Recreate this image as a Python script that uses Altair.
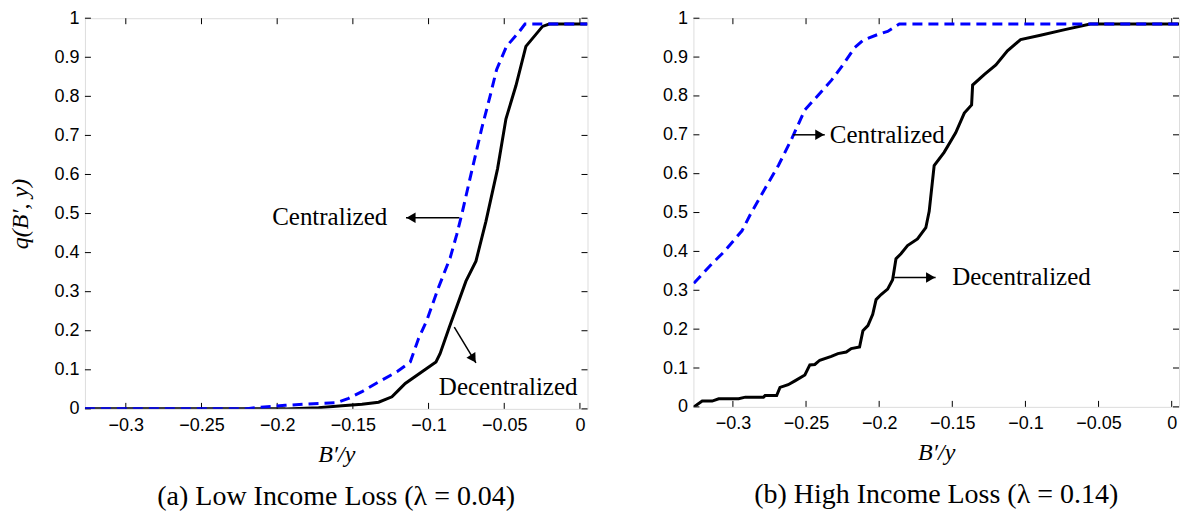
import math
import altair as alt
import pandas as pd

# ---------------- data ----------------
x_ticks = [-0.3, -0.25, -0.2, -0.15, -0.1, -0.05, 0]
y_ticks = [0, 0.1, 0.2, 0.3, 0.4, 0.5, 0.6, 0.7, 0.8, 0.9, 1]
x_domain = [-0.327, 0.005]

# Panel (a): low income loss
a_cent_x = [-0.327, -0.221, -0.2123, -0.1947, -0.1727, -0.1605, -0.1528, -0.144, -0.133,
            -0.1209, -0.1121, -0.1066, -0.1012, -0.0935, -0.0857, -0.0814, -0.0781,
            -0.0726, -0.065, -0.0594, -0.055, -0.0485, -0.0408, -0.0363, 0.005]
a_cent_y = [0.0, 0.0, 0.004, 0.009, 0.014, 0.016, 0.027, 0.044, 0.069,
            0.095, 0.12, 0.18, 0.226, 0.31, 0.387, 0.446, 0.497,
            0.59, 0.716, 0.80, 0.869, 0.928, 0.962, 0.985, 0.985]

a_dec_x = [-0.327, -0.1945, -0.1727, -0.1572, -0.144, -0.133, -0.1242, -0.1198, -0.1154,
           -0.0951, -0.0924, -0.0863, -0.0753, -0.0687, -0.0621, -0.0544, -0.0489,
           -0.0423, -0.0357, -0.0247, -0.0203, 0.005]
a_dec_y = [0.0, 0.0, 0.003, 0.008, 0.012, 0.017, 0.031, 0.048, 0.065,
           0.12, 0.141, 0.209, 0.327, 0.378, 0.48, 0.615, 0.742,
           0.827, 0.928, 0.979, 0.985, 0.985]

# Panel (b): high income loss
b_cent_x = [-0.3267, -0.3142, -0.3063, -0.2938, -0.2881, -0.278, -0.2689, -0.2599, -0.2508,
            -0.2417, -0.2327, -0.2259, -0.2168, -0.2111, -0.201, -0.1942, -0.1862, 0.005]
b_cent_y = [0.318, 0.369, 0.398, 0.453, 0.495, 0.562, 0.621, 0.689, 0.764,
            0.802, 0.840, 0.874, 0.924, 0.943, 0.958, 0.966, 0.985, 0.985]

b_dec_x = [-0.3267, -0.321, -0.3142, -0.3097, -0.2961, -0.2915, -0.2791, -0.278, -0.2701,
           -0.2678, -0.2622, -0.2576, -0.2508, -0.2474, -0.244, -0.2406, -0.2327, -0.2282,
           -0.2225, -0.2191, -0.2134, -0.2111, -0.2077, -0.2044, -0.2021, -0.1987, -0.1942,
           -0.1908, -0.1885, -0.1851, -0.1806, -0.1738, -0.1681, -0.1658, -0.1624, -0.1556,
           -0.1477, -0.1418, -0.1368, -0.1361, -0.1282, -0.1202, -0.1123, -0.1033, -0.0897,
           -0.0738, -0.0557, 0.005]
b_dec_y = [0.0, 0.015, 0.015, 0.021, 0.021, 0.025, 0.025, 0.029, 0.029,
           0.05, 0.057, 0.067, 0.082, 0.108, 0.109, 0.12, 0.13, 0.137,
           0.141, 0.15, 0.154, 0.196, 0.209, 0.238, 0.276, 0.289, 0.303,
           0.327, 0.381, 0.394, 0.415, 0.432, 0.461, 0.503, 0.621, 0.655,
           0.705, 0.756, 0.777, 0.828, 0.855, 0.880, 0.916, 0.945, 0.956,
           0.970, 0.985, 0.985]

# annotations: label text, text anchor, arrow start / tip
a_labels = ["Centralized", "Decentralized"]
a_label_x = [-0.1273, -0.0474]
a_label_y = [0.49, 0.056]
a_label_align = ["right", "center"]
a_arrow_x = [-0.0797, -0.0830]
a_arrow_y = [0.489, 0.209]
a_arrow_x2 = [-0.1149, -0.0687]
a_arrow_y2 = [0.489, 0.1175]
a_arrow_angle = [180, 58]

b_labels = ["Centralized", "Decentralized"]
b_label_x = [-0.2338, -0.1501]
b_label_y = [0.70, 0.333]
b_label_align = ["left", "left"]
b_arrow_x = [-0.2588, -0.1897]
b_arrow_y = [0.70, 0.333]
b_arrow_x2 = [-0.2372, -0.1614]
b_arrow_y2 = [0.70, 0.333]
b_arrow_angle = [0, 0]

captions = ["(a) Low Income Loss (λ = 0.04)", "(b) High Income Loss (λ = 0.14)"]

SERIF = "Liberation Serif"
SANS = "Liberation Sans"


def panel(cx, cy, dx, dy, labels, lx, ly, lalign, ax, ay, ax2, ay2, aang,
          caption, ytitle, W, H):
    xs = alt.Scale(domain=x_domain, nice=False, zero=False)
    ys = alt.Scale(domain=[0, 1], nice=False, zero=False)
    xaxis = alt.Axis(values=x_ticks, format="~g", ticks=False, domain=False, grid=False,
                     labelFlush=False, labelFont=SANS, labelFontSize=18, labelColor="black",
                     labelPadding=8, title="B′/y", titleFont=SERIF, titleFontSize=24,
                     titleFontStyle="italic", titleFontWeight="normal", titleColor="black",
                     titlePadding=8)
    yaxis_kw = dict(values=y_ticks, format="~g", ticks=False, domain=False, grid=False,
                    labelFlush=False, labelFont=SANS, labelFontSize=18, labelColor="black",
                    labelPadding=6)
    if ytitle:
        yaxis = alt.Axis(title=ytitle, titleFont=SERIF, titleFontSize=24,
                         titleFontStyle="italic", titleFontWeight="normal",
                         titleColor="black", titlePadding=21, **yaxis_kw)
    else:
        yaxis = alt.Axis(title=None, **yaxis_kw)

    X = alt.X("x:Q", scale=xs, axis=xaxis)
    Y = alt.Y("y:Q", scale=ys, axis=yaxis)

    xt = pd.DataFrame({"x": x_ticks})
    yt = pd.DataFrame({"y": y_ticks})
    tl = 6
    t_bottom = alt.Chart(xt).mark_rule(color="black", strokeWidth=1).encode(
        x=X, y=alt.value(H), y2=alt.value(H - tl))
    t_top = alt.Chart(xt).mark_rule(color="black", strokeWidth=1).encode(
        x=X, y=alt.value(0), y2=alt.value(tl))
    t_left = alt.Chart(yt).mark_rule(color="black", strokeWidth=1).encode(
        y=Y, x=alt.value(0), x2=alt.value(tl))
    t_right = alt.Chart(yt).mark_rule(color="black", strokeWidth=1).encode(
        y=Y, x=alt.value(W), x2=alt.value(W - tl))

    dfc = pd.DataFrame({"x": cx, "y": cy, "i": range(len(cx))})
    dfd = pd.DataFrame({"x": dx, "y": dy, "i": range(len(dx))})
    dec = alt.Chart(dfd).mark_line(color="black", strokeWidth=3, clip=True).encode(
        x=X, y=Y, order="i:Q")
    cen = alt.Chart(dfc).mark_line(color="#0000ff", strokeWidth=3, strokeDash=[10, 6],
                                   clip=True).encode(x=X, y=Y, order="i:Q")

    arrows = []
    for x1, y1, x2, y2, ang in zip(ax, ay, ax2, ay2, aang):
        d = pd.DataFrame({"x": [x1], "y": [y1], "x2": [x2], "y2": [y2]})
        arrows.append(alt.Chart(d).mark_rule(color="black", strokeWidth=1.5).encode(
            x=X, y=Y, x2="x2:Q", y2="y2:Q"))
        back = 5.0
        arrows.append(alt.Chart(d).mark_point(
            shape="triangle-right", filled=True, color="black", opacity=1, size=110,
            angle=ang, strokeWidth=0,
            xOffset=-back * math.cos(math.radians(ang)),
            yOffset=-back * math.sin(math.radians(ang))).encode(
            x=alt.X("x2:Q", scale=xs, axis=xaxis), y=alt.Y("y2:Q", scale=ys, axis=yaxis)))

    texts = []
    for t, x, y, al in zip(labels, lx, ly, lalign):
        d = pd.DataFrame({"x": [x], "y": [y], "t": [t]})
        texts.append(alt.Chart(d).mark_text(font=SERIF, fontSize=25, align=al,
                                            baseline="middle", color="black").encode(
            x=X, y=Y, text="t:N"))

    return alt.layer(t_bottom, t_top, t_left, t_right, dec, cen, *arrows, *texts).properties(
        width=W, height=H,
        title=alt.TitleParams(caption, orient="bottom", font=SERIF, fontSize=28,
                              fontWeight="normal", color="black", offset=16, anchor="middle"))


left = panel(a_cent_x, a_cent_y, a_dec_x, a_dec_y, a_labels, a_label_x, a_label_y,
             a_label_align, a_arrow_x, a_arrow_y, a_arrow_x2, a_arrow_y2, a_arrow_angle,
             captions[0], "q(B′, y)", 503, 391)
right = panel(b_cent_x, b_cent_y, b_dec_x, b_dec_y, b_labels, b_label_x, b_label_y,
              b_label_align, b_arrow_x, b_arrow_y, b_arrow_x2, b_arrow_y2, b_arrow_angle,
              captions[1], None, 486, 389)

chart = alt.hconcat(left, right, spacing=73).properties(
    padding={"top": 0, "left": 0, "right": 0, "bottom": 0}
).configure_view(stroke="black", strokeWidth=1).configure(background="white")

chart.save("out.html", embed_options={"renderer": "svg", "actions": False})
